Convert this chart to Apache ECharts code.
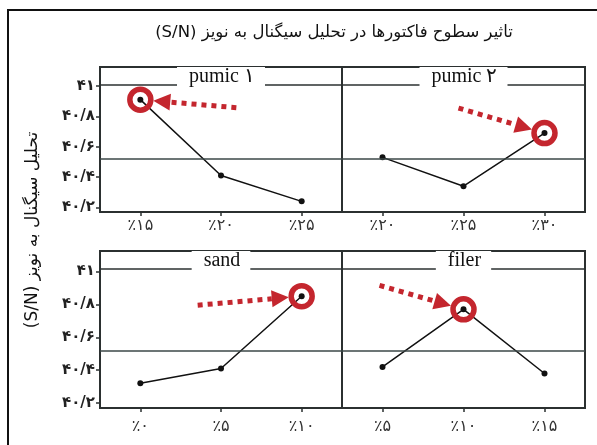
<!DOCTYPE html>
<html>
<head>
<meta charset="utf-8">
<script src="https://cdn.jsdelivr.net/npm/echarts@6/dist/echarts.min.js"></script>
<style>
html,body{margin:0;padding:0;background:#fff;}
#c{width:597px;height:445px;direction:rtl;}
</style>
</head>
<body>
<div id="c"></div>
<script>
// ---- data ----
const titleText = 'تاثیر سطوح فاکتورها در تحلیل سیگنال به نویز (S/N)';
const yAxisTitle = 'تحلیل سیگنال به نویز (S/N)';
const panelNames = ['pumic ۱', 'pumic ۲', 'sand', 'filer'];
const pumic1Cats = ['٪۱۵', '٪۲۰', '٪۲۵'];
const pumic1Vals = [40.91, 40.41, 40.24];
const pumic2Cats = ['٪۲۰', '٪۲۵', '٪۳۰'];
const pumic2Vals = [40.53, 40.34, 40.69];
const sandCats = ['٪۰', '٪۵', '٪۱۰'];
const sandVals = [40.32, 40.41, 40.85];
const filerCats = ['٪۵', '٪۱۰', '٪۱۵'];
const filerVals = [40.42, 40.77, 40.38];
const meanSN = 40.52;
const yTickValues = [40.2, 40.4, 40.6, 40.8, 41];
const yTickLabels = ['۴۰/۲', '۴۰/۴', '۴۰/۶', '۴۰/۸', '۴۱'];

// ---- layout / style ----
const RED = '#c4262e';
const DARK = '#2b3030';
const FONT = 'DejaVu Sans';
const grids = [
  {left: 100, top: 67, width: 242, height: 145},
  {left: 342, top: 67, width: 243, height: 145},
  {left: 100, top: 251, width: 242, height: 157},
  {left: 342, top: 251, width: 243, height: 157}
];
const labelMargins = [6, 6, 11, 11];
const arrowOffsets = [[96, 8], [-86, -25], [-104, 9], [-84, -24]];
const catsList = [pumic1Cats, pumic2Cats, sandCats, filerCats];
const valsList = [pumic1Vals, pumic2Vals, sandVals, filerVals];

const chart = echarts.init(document.getElementById('c'), null, {renderer: 'canvas'});

const option = {
  animation: false,
  backgroundColor: '#fff',
  grid: grids.map(g => Object.assign({show: true, borderColor: DARK, borderWidth: 2, backgroundColor: 'transparent'}, g)),
  xAxis: grids.map((g, i) => ({
    type: 'category', gridIndex: i, data: catsList[i], boundaryGap: true,
    axisLine: {show: false},
    axisTick: {show: true, alignWithLabel: true, length: 4, lineStyle: {color: DARK, width: 1.5}},
    axisLabel: {margin: labelMargins[i], color: '#333', fontFamily: FONT, fontSize: 16}
  })),
  yAxis: grids.map((g, i) => {
    const left = (i % 2 === 0);
    return {
      type: 'value', gridIndex: i, min: 40.17, max: 41.125,
      splitLine: {show: false},
      axisLine: {show: false},
      axisTick: {show: left, length: 4, customValues: yTickValues, lineStyle: {color: DARK, width: 1.5}},
      axisLabel: {
        show: left, customValues: yTickValues, margin: 5, color: '#222',
        fontFamily: FONT, fontSize: 15, fontWeight: 'bold',
        formatter: v => {
          const k = yTickValues.findIndex(t => Math.abs(t - v) < 1e-6);
          return k >= 0 ? yTickLabels[k] : '';
        }
      }
    };
  }),
  series: valsList.map((vals, i) => ({
    type: 'line', xAxisIndex: i, yAxisIndex: i, data: vals,
    symbol: 'circle', symbolSize: 6,
    lineStyle: {color: '#111', width: 1.5},
    itemStyle: {color: '#111'},
    z: 3,
    markLine: {
      silent: true, symbol: 'none', label: {show: false},
      lineStyle: {color: '#3b4747', width: 1.5, type: 'solid'},
      data: [{yAxis: meanSN}]
    },
    markPoint: {
      silent: true, symbol: 'circle', symbolSize: 21,
      label: {show: false},
      itemStyle: {color: 'rgba(0,0,0,0)', borderColor: RED, borderWidth: 5.5},
      data: [{type: 'max'}]
    }
  }))
};

const staticEls = [];
staticEls.push({type: 'rect', silent: true, z: 0, shape: {x: 8, y: 10, width: 700, height: 500}, style: {fill: 'none', stroke: '#111', lineWidth: 2}});
staticEls.push({type: 'text', silent: true, x: 334, y: 33, style: {text: titleText, fontFamily: FONT, fontSize: 16.5, fill: '#111', textAlign: 'center', textVerticalAlign: 'middle'}});
staticEls.push({type: 'text', silent: true, x: 33, y: 230, rotation: Math.PI / 2, style: {text: yAxisTitle, fontFamily: FONT, fontSize: 17, fill: '#111', textAlign: 'center', textVerticalAlign: 'middle'}});
grids.forEach((g, i) => {
  staticEls.push({type: 'line', silent: true, z: 5, shape: {x1: g.left, y1: g.top + 18, x2: g.left + g.width, y2: g.top + 18}, style: {stroke: DARK, lineWidth: 1.5}});
  staticEls.push({type: 'text', silent: true, z: 6, x: g.left + g.width / 2, y: g.top + 10, style: {text: panelNames[i], fontFamily: 'Liberation Serif', fontSize: 20, fill: '#111', textAlign: 'center', textVerticalAlign: 'middle', backgroundColor: '#fff', padding: [0, 10, 0, 12]}});
});
option.graphic = {elements: staticEls};
chart.setOption(option);

// arrows pointing to the highest level of each factor
const arrowEls = [];
valsList.forEach((vals, i) => {
  let mi = 0;
  vals.forEach((v, k) => { if (v > vals[mi]) mi = k; });
  const p = chart.convertToPixel({seriesIndex: i}, [mi, vals[mi]]);
  const off = arrowOffsets[i];
  const s = [p[0] + off[0], p[1] + off[1]];
  const dx = p[0] - s[0], dy = p[1] - s[1];
  const L = Math.sqrt(dx * dx + dy * dy);
  const u = [dx / L, dy / L];
  const perp = [-u[1], u[0]];
  const tip = [p[0] - u[0] * 13, p[1] - u[1] * 13];
  const base = [tip[0] - u[0] * 17, tip[1] - u[1] * 17];
  arrowEls.push({type: 'line', silent: true, z: 10, shape: {x1: s[0], y1: s[1], x2: base[0], y2: base[1]}, style: {stroke: RED, lineWidth: 5, lineDash: [5, 5]}});
  arrowEls.push({type: 'polygon', silent: true, z: 10, shape: {points: [tip, [base[0] + perp[0] * 8.5, base[1] + perp[1] * 8.5], [base[0] - perp[0] * 8.5, base[1] - perp[1] * 8.5]]}, style: {fill: RED}});
});
chart.setOption({graphic: {elements: staticEls.concat(arrowEls)}});
</script>
</body>
</html>
